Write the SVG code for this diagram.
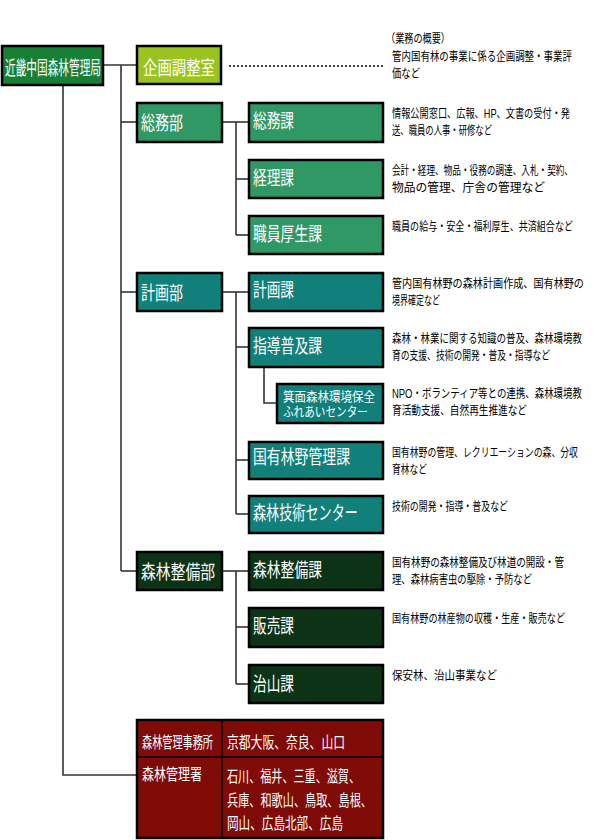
<svg xmlns="http://www.w3.org/2000/svg" width="600" height="840" viewBox="0 0 600 840">
<style>
.box{stroke:#000;stroke-width:2.5}
.root{fill:#178035}
.kikaku{fill:#9bc31d}
.somu{fill:#2f9865}
.keikaku{fill:#11807b}
.seibi{fill:#0d3316}
.red{fill:#7f0b06}
text{font-family:"Liberation Sans","Noto Sans CJK JP",sans-serif}
.lbl{fill:#fff;font-size:14px}
.lbl-root{fill:#fff;font-size:10.6px}
.lbl-s{fill:#fff;font-size:11px}
.lbl-r{fill:#fff;font-size:11px}
.desc{fill:#000;font-size:9.6px}
.conn line,.conn polyline{stroke:#333;stroke-width:1.6;fill:none}
</style>
<g id="connectors" class="conn">
<line x1="103" y1="65" x2="137" y2="65"/>
<line x1="121" y1="65" x2="121" y2="571"/>
<line x1="121" y1="122" x2="137" y2="122"/>
<line x1="121" y1="292" x2="137" y2="292"/>
<line x1="121" y1="571" x2="137" y2="571"/>
<polyline points="63,85 63,775 137,775"/>
<line x1="222" y1="122" x2="249" y2="122"/>
<line x1="236" y1="122" x2="236" y2="235"/>
<line x1="236" y1="179" x2="249" y2="179"/>
<line x1="236" y1="235" x2="249" y2="235"/>
<line x1="222" y1="292" x2="249" y2="292"/>
<line x1="236" y1="292" x2="236" y2="514"/>
<line x1="236" y1="347" x2="249" y2="347"/>
<line x1="236" y1="460" x2="249" y2="460"/>
<line x1="236" y1="514" x2="249" y2="514"/>
<polyline points="264,367 264,403 277,403"/>
<line x1="222" y1="571" x2="249" y2="571"/>
<line x1="236" y1="571" x2="236" y2="684"/>
<line x1="236" y1="627" x2="249" y2="627"/>
<line x1="236" y1="684" x2="249" y2="684"/>
<line x1="229" y1="66" x2="383" y2="66" style="stroke:#000;stroke-width:1.3;stroke-dasharray:2 2"/>
</g>
<g id="root">
<rect class="box root" x="2" y="46" width="101" height="39"/>
<text class="lbl-root" x="5" y="75" textLength="96" lengthAdjust="spacingAndGlyphs" transform="matrix(1,0,0,1.8,0,-60)">近畿中国森林管理局</text>
</g>
<g id="kikaku">
<rect class="box kikaku" x="137" y="46" width="84" height="38"/>
<text class="lbl" x="143" y="75" textLength="72" lengthAdjust="spacingAndGlyphs" transform="matrix(1,0,0,1.35,0,-26.25)">企画調整室</text>
<text class="desc" x="386" y="43" textLength="64" lengthAdjust="spacingAndGlyphs" transform="matrix(1,0,0,1.25,0,-10.75)">（業務の概要）</text>
<text class="desc" x="392" y="61" textLength="180" lengthAdjust="spacingAndGlyphs" transform="matrix(1,0,0,1.25,0,-15.25)">管内国有林の事業に係る企画調整・事業評</text>
<text class="desc" x="392" y="78" textLength="28" lengthAdjust="spacingAndGlyphs" transform="matrix(1,0,0,1.25,0,-19.5)">価など</text>
</g>
<g id="somubu">
<rect class="box somu" x="137" y="103" width="85" height="39"/>
<text class="lbl" x="141" y="130" textLength="42" lengthAdjust="spacingAndGlyphs" transform="matrix(1,0,0,1.35,0,-45.5)">総務部</text>
</g>
<g id="somuka">
<rect class="box somu" x="249" y="103" width="134" height="39"/>
<text class="lbl" x="253" y="128" textLength="41" lengthAdjust="spacingAndGlyphs" transform="matrix(1,0,0,1.35,0,-44.8)">総務課</text>
<text class="desc" x="392" y="118" textLength="178" lengthAdjust="spacingAndGlyphs" transform="matrix(1,0,0,1.25,0,-29.5)">情報公開窓口、広報、HP、文書の受付・発</text>
<text class="desc" x="392" y="135" textLength="100" lengthAdjust="spacingAndGlyphs" transform="matrix(1,0,0,1.25,0,-33.75)">送、職員の人事・研修など</text>
</g>
<g id="keirika">
<rect class="box somu" x="249" y="160" width="134" height="38"/>
<text class="lbl" x="253" y="185" textLength="41" lengthAdjust="spacingAndGlyphs" transform="matrix(1,0,0,1.35,0,-64.75)">経理課</text>
<text class="desc" x="392" y="175" textLength="181" lengthAdjust="spacingAndGlyphs" transform="matrix(1,0,0,1.25,0,-43.75)">会計・経理、物品・役務の調達、入札・契約、</text>
<text class="desc" x="392" y="192" textLength="153" lengthAdjust="spacingAndGlyphs" transform="matrix(1,0,0,1.25,0,-48)">物品の管理、庁舎の管理など</text>
</g>
<g id="koseika">
<rect class="box somu" x="249" y="216" width="134" height="38"/>
<text class="lbl" x="253" y="241" textLength="69" lengthAdjust="spacingAndGlyphs" transform="matrix(1,0,0,1.35,0,-84.35)">職員厚生課</text>
<text class="desc" x="392" y="231" textLength="181" lengthAdjust="spacingAndGlyphs" transform="matrix(1,0,0,1.25,0,-57.75)">職員の給与・安全・福利厚生、共済組合など</text>
</g>
<g id="keikakubu">
<rect class="box keikaku" x="137" y="273" width="85" height="38"/>
<text class="lbl" x="141" y="300" textLength="42" lengthAdjust="spacingAndGlyphs" transform="matrix(1,0,0,1.35,0,-105)">計画部</text>
</g>
<g id="keikakuka">
<rect class="box keikaku" x="249" y="273" width="134" height="38"/>
<text class="lbl" x="253" y="297" textLength="41" lengthAdjust="spacingAndGlyphs" transform="matrix(1,0,0,1.35,0,-103.95)">計画課</text>
<text class="desc" x="392" y="288" textLength="192" lengthAdjust="spacingAndGlyphs" transform="matrix(1,0,0,1.25,0,-72)">管内国有林野の森林計画作成、国有林野の</text>
<text class="desc" x="392" y="305" textLength="48" lengthAdjust="spacingAndGlyphs" transform="matrix(1,0,0,1.25,0,-76.25)">境界確定など</text>
</g>
<g id="shidoka">
<rect class="box keikaku" x="249" y="328" width="134" height="39"/>
<text class="lbl" x="253" y="353" textLength="69" lengthAdjust="spacingAndGlyphs" transform="matrix(1,0,0,1.35,0,-123.55)">指導普及課</text>
<text class="desc" x="392" y="343" textLength="190" lengthAdjust="spacingAndGlyphs" transform="matrix(1,0,0,1.25,0,-85.75)">森林・林業に関する知識の普及、森林環境教</text>
<text class="desc" x="392" y="360" textLength="158" lengthAdjust="spacingAndGlyphs" transform="matrix(1,0,0,1.25,0,-90)">育の支援、技術の開発・普及・指導など</text>
</g>
<g id="mino">
<rect class="box keikaku" x="277" y="384" width="106" height="39"/>
<text class="lbl-s" x="283" y="401" textLength="92" lengthAdjust="spacingAndGlyphs" transform="matrix(1,0,0,1.14,0,-56.14)">箕面森林環境保全</text>
<text class="lbl-s" x="283" y="416" textLength="85" lengthAdjust="spacingAndGlyphs" transform="matrix(1,0,0,1.14,0,-58.24)">ふれあいセンター</text>
<text class="desc" x="392" y="398" textLength="190" lengthAdjust="spacingAndGlyphs" transform="matrix(1,0,0,1.25,0,-99.5)">NPO・ボランティア等との連携、森林環境教</text>
<text class="desc" x="392" y="415" textLength="135" lengthAdjust="spacingAndGlyphs" transform="matrix(1,0,0,1.25,0,-103.75)">育活動支援、自然再生推進など</text>
</g>
<g id="kokuyuka">
<rect class="box keikaku" x="249" y="442" width="134" height="37"/>
<text class="lbl" x="253" y="464" textLength="97" lengthAdjust="spacingAndGlyphs" transform="matrix(1,0,0,1.35,0,-162.4)">国有林野管理課</text>
<text class="desc" x="392" y="457" textLength="186" lengthAdjust="spacingAndGlyphs" transform="matrix(1,0,0,1.25,0,-114.25)">国有林野の管理、レクリエーションの森、分収</text>
<text class="desc" x="392" y="474" textLength="35" lengthAdjust="spacingAndGlyphs" transform="matrix(1,0,0,1.25,0,-118.5)">育林など</text>
</g>
<g id="gijutsu">
<rect class="box keikaku" x="249" y="496" width="134" height="37"/>
<text class="lbl" x="253" y="520" textLength="105" lengthAdjust="spacingAndGlyphs" transform="matrix(1,0,0,1.35,0,-182)">森林技術センター</text>
<text class="desc" x="392" y="511" textLength="116" lengthAdjust="spacingAndGlyphs" transform="matrix(1,0,0,1.25,0,-127.75)">技術の開発・指導・普及など</text>
</g>
<g id="seibibu">
<rect class="box seibi" x="137" y="552" width="85" height="38"/>
<text class="lbl" x="141" y="579" textLength="74" lengthAdjust="spacingAndGlyphs" transform="matrix(1,0,0,1.35,0,-202.65)">森林整備部</text>
</g>
<g id="seibika">
<rect class="box seibi" x="249" y="552" width="134" height="38"/>
<text class="lbl" x="253" y="577" textLength="69" lengthAdjust="spacingAndGlyphs" transform="matrix(1,0,0,1.35,0,-201.95)">森林整備課</text>
<text class="desc" x="392" y="567" textLength="172" lengthAdjust="spacingAndGlyphs" transform="matrix(1,0,0,1.25,0,-141.75)">国有林野の森林整備及び林道の開設・管</text>
<text class="desc" x="392" y="584" textLength="140" lengthAdjust="spacingAndGlyphs" transform="matrix(1,0,0,1.25,0,-146)">理、森林病害虫の駆除・予防など</text>
</g>
<g id="hanbaika">
<rect class="box seibi" x="249" y="608" width="134" height="39"/>
<text class="lbl" x="253" y="633" textLength="41" lengthAdjust="spacingAndGlyphs" transform="matrix(1,0,0,1.35,0,-221.55)">販売課</text>
<text class="desc" x="392" y="623" textLength="173" lengthAdjust="spacingAndGlyphs" transform="matrix(1,0,0,1.25,0,-155.75)">国有林野の林産物の収穫・生産・販売など</text>
</g>
<g id="chisanka">
<rect class="box seibi" x="249" y="665" width="134" height="38"/>
<text class="lbl" x="253" y="691" textLength="41" lengthAdjust="spacingAndGlyphs" transform="matrix(1,0,0,1.35,0,-241.85)">治山課</text>
<text class="desc" x="392" y="680" textLength="105" lengthAdjust="spacingAndGlyphs" transform="matrix(1,0,0,1.25,0,-170)">保安林、治山事業など</text>
</g>
<g id="offices">
<rect class="box red" x="137" y="720" width="246" height="118"/>
<line x1="137" y1="757" x2="383" y2="757" stroke="#000" stroke-width="1.5"/>
<line x1="222" y1="720" x2="222" y2="838" stroke="#000" stroke-width="1.5"/>
<text class="lbl-r" x="142" y="748" textLength="71" lengthAdjust="spacingAndGlyphs" transform="matrix(1,0,0,1.45,0,-336.6)">森林管理事務所</text>
<text class="lbl-r" x="227" y="748" textLength="118" lengthAdjust="spacingAndGlyphs" transform="matrix(1,0,0,1.45,0,-336.6)">京都大阪、奈良、山口</text>
<text class="lbl-r" x="142" y="780" textLength="60" lengthAdjust="spacingAndGlyphs" transform="matrix(1,0,0,1.45,0,-351)">森林管理署</text>
<text class="lbl-r" x="227" y="782" textLength="133" lengthAdjust="spacingAndGlyphs" transform="matrix(1,0,0,1.45,0,-351.9)">石川、福井、三重、滋賀、</text>
<text class="lbl-r" x="227" y="806" textLength="145" lengthAdjust="spacingAndGlyphs" transform="matrix(1,0,0,1.45,0,-362.7)">兵庫、和歌山、鳥取、島根、</text>
<text class="lbl-r" x="227" y="829" textLength="116" lengthAdjust="spacingAndGlyphs" transform="matrix(1,0,0,1.45,0,-373.05)">岡山、広島北部、広島</text>
</g>
</svg>
